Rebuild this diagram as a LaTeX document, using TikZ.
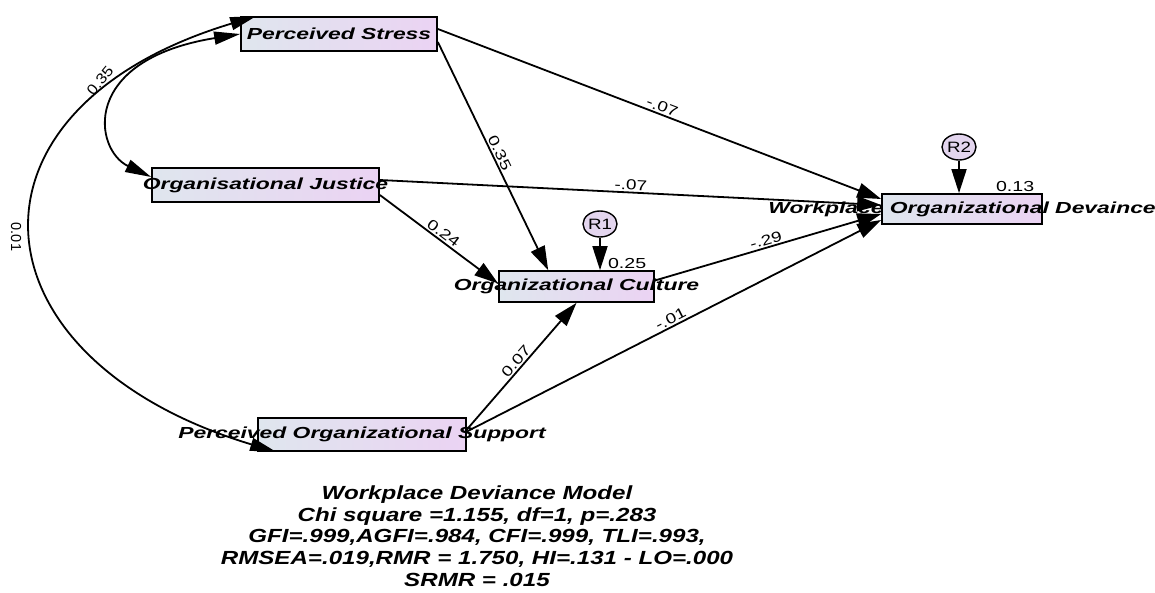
\documentclass[tikz,border=0pt]{standalone}
\usepackage{graphicx}
\usepackage{fontspec}
\setmainfont{Liberation Sans}
\usetikzlibrary{arrows.meta,shapes.geometric}
\definecolor{boxleft}{HTML}{DFE6EE}
\definecolor{boxright}{HTML}{EBD3F3}
\definecolor{errorfill}{HTML}{E3D5EE}
% AMOS output is stretched sideways, so text is widened to suit
\newcommand{\wide}[2][1.43]{\scalebox{#1}[1]{#2}}
\begin{document}
\begin{tikzpicture}
[x=1pt,y=-1pt,
  boxdecorate/.style={rectangle,draw,line width=1.7pt,inner sep=0pt,
    left color=boxleft,right color=boxright},
  namedecorate/.style={font=\fontsize{16}{19}\bfseries\itshape\selectfont},
  errordecorate/.style={ellipse,draw,line width=1.4pt,fill=errorfill,
    inner sep=0pt,minimum width=34pt,minimum height=26pt,
    font=\fontsize{15}{17}\selectfont},
  arrowdecorate/.style={-{Triangle[length=24pt,width=15pt]},line width=1.8pt},
  covdecorate/.style={{Triangle[length=26pt,width=13pt]}-{Triangle[length=26pt,width=13pt]},
    line width=1.8pt},
  weightdecorate/.style={font=\fontsize{14.5}{16}\selectfont,inner sep=1.5pt}]
\useasboundingbox (0,0) rectangle (1155,593);
%% observed variables
\foreach \nodename/\x/\y/\boxw/\boxh/\caption in {
  ps/339/34/196/34/Perceived Stress,
  oj/265.5/185/227/34/Organisational Justice,
  oc/576.5/286.5/155/31/Organizational Culture,
  wod/962/209/160/30/Workplace Organizational Devaince,
  pos/362/434.5/208/33/Perceived Organizational Support} {
  \node (\nodename) at (\x,\y) [boxdecorate,minimum width=\boxw pt,
    minimum height=\boxh pt,label={[namedecorate]center:\wide{\caption}}] {};
}
%% error terms
\node (r1) at (600,224) [errordecorate] {\wide[1.25]{R1}};
\node (r2) at (959,147) [errordecorate] {\wide[1.25]{R2}};
\draw[arrowdecorate] (r1) -- (r1 |- oc.north);
\draw[arrowdecorate] (r2) -- (r2 |- wod.north);
\node[weightdecorate,anchor=south east] at ([xshift=-7pt]oc.north east) {\wide[1.35]{0.25}};
\node[weightdecorate,anchor=south east] at ([xshift=-7pt]wod.north east) {\wide[1.35]{0.13}};
%% regression paths
\path
\foreach \startnode/\startdy/\endnode/\enddy/\weight in {
  ps.east/5/wod.west/10/-.07, ps.east/-8/oc.150/0/0.35,
  oj.east/5/wod.west/4/-.07, oj.east/-10/oc.west/3/0.24,
  oc.east/6/wod.west/-5/-.29, pos.east/5/oc.south/0/0.07,
  pos.east/3/wod.west/-11/-.01} {
  ([yshift=\startdy pt]\startnode) edge[arrowdecorate]
    node[weightdecorate,sloped,above] {\wide[1.3]{\weight}} ([yshift=\enddy pt]\endnode)
};
%% covariances
\draw[covdecorate] (ps.west) .. controls +(-161,26) and +(-57,-27) .. ([yshift=8pt]oj.west);
\draw[covdecorate] ([xshift=16pt]ps.north west) .. controls +(-309,93) and +(-309,-93)
  .. ([xshift=19pt]pos.south west);
\node[weightdecorate,rotate=50] (covone) at (100,81) {\wide[1.15]{0.35}};
\node[weightdecorate,rotate=-90] (covtwo) at (16,237) {0.01};
%% fit summary
\node[font=\fontsize{19}{21.75}\bfseries\itshape\selectfont,align=center] (summary)
  at (477,536) {\wide[1.27]{Workplace Deviance Model}\\
  \wide[1.27]{Chi square =1.155, df=1, p=.283}\\
  \wide[1.27]{GFI=.999,AGFI=.984, CFI=.999, TLI=.993,}\\
  \wide[1.27]{RMSEA=.019,RMR = 1.750, HI=.131 - LO=.000}\\
  \wide[1.27]{SRMR = .015}};
\end{tikzpicture}
\end{document}
